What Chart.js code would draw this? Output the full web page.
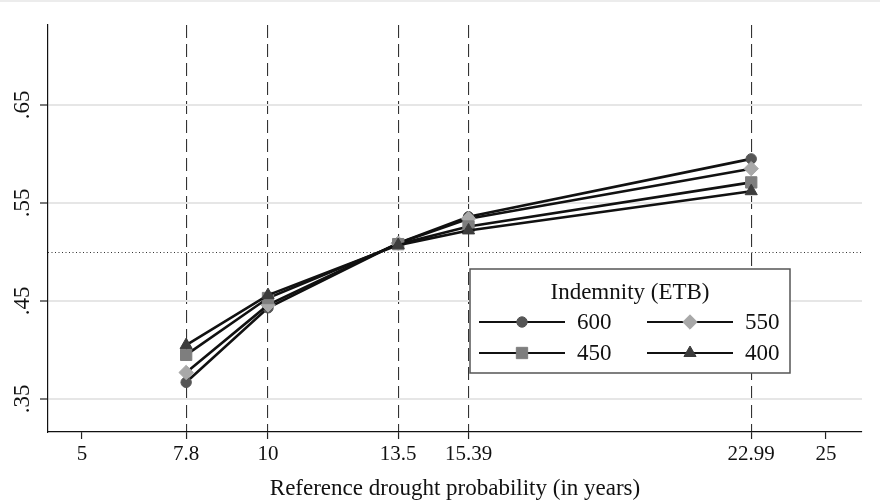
<!DOCTYPE html>
<html>
<head>
<meta charset="utf-8">
<script src="https://cdn.jsdelivr.net/npm/chart.js@4"></script>
<style>
  html, body { margin: 0; padding: 0; background: #fff; }
  #wrap { width: 880px; height: 502px; }
</style>
</head>
<body>
<div id="wrap"><canvas id="chart"></canvas></div>
<script>
// reference drought probability (years)
const probs = [7.8, 10, 13.5, 15.39, 22.99];
const xTicks = [5, 7.8, 10, 13.5, 15.39, 22.99, 25];
const yTicks = [0.35, 0.45, 0.55, 0.65];
const refLevel = 0.5;

const indemnity600 = [0.367, 0.443, 0.509, 0.536, 0.595];
const indemnity550 = [0.377, 0.446, 0.509, 0.534, 0.585];
const indemnity450 = [0.395, 0.453, 0.508, 0.526, 0.571];
const indemnity400 = [0.405, 0.456, 0.507, 0.522, 0.562];

const serif = "'Liberation Serif', 'Times New Roman', serif";

const toPoints = vals => vals.map((v, i) => ({x: probs[i], y: v}));

const series = (label, vals, style, color, radius, order) => ({
    label: label,
    data: toPoints(vals),
    borderColor: '#111',
    borderWidth: 2.6,
    pointStyle: style,
    pointRadius: radius,
    pointHoverRadius: radius,
    pointBackgroundColor: color,
    pointBorderColor: color,
    pointBorderWidth: 1,
    showLine: true,
    tension: 0,
    order: order
});

// white page + faint frame line on top
const background = {
    id: 'background',
    beforeDraw(chart) {
        const ctx = chart.ctx;
        ctx.save();
        ctx.fillStyle = '#fff';
        ctx.fillRect(0, 0, chart.width, chart.height);
        ctx.fillStyle = '#ececec';
        ctx.fillRect(0, 0, chart.width, 2);
        ctx.restore();
    }
};

// dotted reference line at 0.5
const refLine = {
    id: 'refLine',
    beforeDatasetsDraw(chart) {
        const {ctx, chartArea} = chart;
        const y = Math.round(chart.scales.y.getPixelForValue(refLevel)) + 0.5;
        ctx.save();
        ctx.strokeStyle = '#333';
        ctx.lineWidth = 1;
        ctx.setLineDash([1, 2.5]);
        ctx.beginPath();
        ctx.moveTo(chartArea.left, y);
        ctx.lineTo(chartArea.right, y);
        ctx.stroke();
        ctx.restore();
    }
};

// boxed legend inside the plot
const legendBox = {
    id: 'legendBox',
    afterDatasetsDraw(chart) {
        const ctx = chart.ctx;
        const bx = 470, by = 269, bw = 320, bh = 104;
        ctx.save();
        ctx.fillStyle = '#fff';
        ctx.fillRect(bx, by, bw, bh);
        ctx.strokeStyle = '#555';
        ctx.lineWidth = 1.5;
        ctx.strokeRect(bx, by, bw, bh);

        ctx.fillStyle = '#111';
        ctx.font = '23px ' + serif;
        ctx.textAlign = 'center';
        ctx.textBaseline = 'middle';
        ctx.fillText('Indemnity (ETB)', bx + 160, by + 24);

        const cols = [479, 647];
        const rows = [by + 53, by + 84];
        ctx.textAlign = 'left';
        chart.data.datasets.forEach((ds, i) => {
            const lx = cols[i % 2];
            const ly = rows[Math.floor(i / 2)];
            ctx.strokeStyle = ds.borderColor;
            ctx.lineWidth = 2.2;
            ctx.setLineDash([]);
            ctx.beginPath();
            ctx.moveTo(lx, ly);
            ctx.lineTo(lx + 86, ly);
            ctx.stroke();
            ctx.fillStyle = ds.pointBackgroundColor;
            ctx.strokeStyle = ds.pointBorderColor;
            ctx.lineWidth = ds.pointBorderWidth;
            Chart.helpers.drawPoint(ctx, {pointStyle: ds.pointStyle, radius: ds.pointRadius, rotation: 0, borderWidth: 1}, lx + 43, ly);
            ctx.fillStyle = '#111';
            ctx.fillText(ds.label, lx + 98, ly + 1);
        });
        ctx.restore();
    }
};

new Chart(document.getElementById('chart'), {
    type: 'scatter',
    data: {
        datasets: [
            series('600', indemnity600, 'circle', '#565656', 5.2, 4),
            series('550', indemnity550, 'rectRot', '#a8a8a8', 7.2, 3),
            series('450', indemnity450, 'rect', '#7e7e7e', 8, 2),
            series('400', indemnity400, 'triangle', '#3c3c3c', 7, 1)
        ]
    },
    options: {
        responsive: true,
        maintainAspectRatio: false,
        animation: false,
        layout: {padding: {top: 25, right: 18, left: 0, bottom: 0}},
        plugins: {
            legend: {display: false},
            tooltip: {enabled: false}
        },
        scales: {
            x: {
                type: 'linear',
                min: 4.086,
                max: 25.968,
                afterBuildTicks: scale => { scale.ticks = xTicks.map(v => ({value: v})); },
                afterFit: scale => { scale.height = 70; },
                ticks: {
                    color: '#111',
                    font: {family: serif, size: 21},
                    padding: 3,
                    maxRotation: 0,
                    callback: v => String(v)
                },
                grid: {
                    color: c => (c.tick && (c.tick.value === 5 || c.tick.value === 25)) ? 'rgba(0,0,0,0)' : '#333',
                    lineWidth: 1.1,
                    tickColor: '#222',
                    tickLength: 7,
                    tickBorderDash: [],
                    tickWidth: 1.2
                },
                border: {display: true, color: '#111', width: 1.2, dash: [13, 6]},
                title: {
                    display: true,
                    text: 'Reference drought probability (in years)',
                    color: '#111',
                    font: {family: serif, size: 23},
                    padding: {top: 0, bottom: -1}
                }
            },
            y: {
                min: 0.3163,
                max: 0.7316,
                afterBuildTicks: scale => { scale.ticks = yTicks.map(v => ({value: v})); },
                afterFit: scale => { scale.width = 48; },
                ticks: {
                    color: '#111',
                    font: {family: serif, size: 23},
                    minRotation: 90,
                    maxRotation: 90,
                    crossAlign: 'center',
                    padding: 3,
                    callback: v => v.toFixed(2).replace(/^0/, '')
                },
                grid: {
                    color: '#e6e6e6',
                    lineWidth: 2,
                    tickColor: '#222',
                    tickLength: 8,
                    tickWidth: 1.2
                },
                border: {display: true, color: '#111', width: 1.2}
            }
        }
    },
    plugins: [background, refLine, legendBox]
});
</script>
</body>
</html>
